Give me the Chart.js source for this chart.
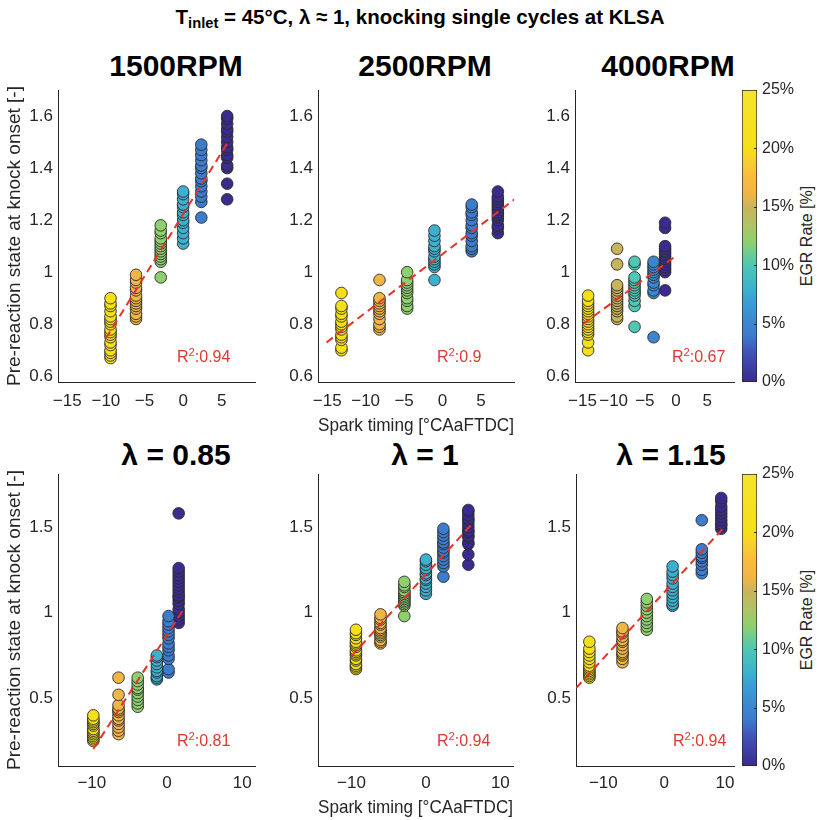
<!DOCTYPE html>
<html>
<head>
<meta charset="utf-8">
<script src="https://cdn.jsdelivr.net/npm/chart.js@4.4.1/dist/chart.umd.min.js"></script>
<style>
  body { margin: 0; background: #fff; width: 817px; height: 820px; position: relative; overflow: hidden;
         font-family: 'Liberation Sans', Arial, sans-serif; }
  canvas { position: absolute; }
  .t { position: absolute; transform: translate(-50%, -50%); white-space: nowrap; color: #000; font-weight: bold; }
  .sup { font-size: 20.5px; }
  .sup sub { font-size: 0.72em; vertical-align: -0.3em; line-height: 0; }
  .ptitle { font-size: 30px; }
  .r2 { position: absolute; transform: translate(0, -50%); white-space: nowrap; color: #e0382e; font-size: 16px; }
  .r2 sup { font-size: 0.7em; line-height: 0; vertical-align: 0.55em; }
  .cblabel { position: absolute; transform: translate(-50%, -50%) rotate(-90deg); white-space: nowrap; color: #262626; font-size: 16px; }
</style>
</head>
<body>
<div class="t sup" style="left:420px;top:17px">T<sub>inlet</sub> = 45°C, λ ≈ 1, knocking single cycles at KLSA</div>
<div class="t ptitle" style="left:176px;top:66px">1500RPM</div>
<div class="t ptitle" style="left:425px;top:66px">2500RPM</div>
<div class="t ptitle" style="left:668px;top:66px">4000RPM</div>
<div class="t ptitle" style="left:176px;top:455px">λ = 0.85</div>
<div class="t ptitle" style="left:425px;top:455px">λ = 1</div>
<div class="t ptitle" style="left:671px;top:455px">λ = 1.15</div>
<div class="cblabel" style="left:807px;top:236px">EGR Rate [%]</div>
<div class="cblabel" style="left:807px;top:620px">EGR Rate [%]</div>

<script>
// ---- data ----
// 1500 RPM (also used for lambda = 1)
const egr1500 = [20, 16, 12, 8, 4, 0];
const spark1500 = [-9.4, -6.1, -2.9, 0, 2.35, 5.7];
const knock1500 = [
  [0.67, 0.68, 0.69, 0.70, 0.72, 0.73, 0.75, 0.76, 0.77, 0.78, 0.80, 0.81, 0.82, 0.83, 0.85, 0.87, 0.88, 0.90],
  [0.82, 0.83, 0.84, 0.86, 0.87, 0.88, 0.89, 0.90, 0.91, 0.93, 0.94, 0.96, 0.97, 0.99],
  [0.98, 1.04, 1.05, 1.06, 1.07, 1.08, 1.09, 1.10, 1.11, 1.12, 1.13, 1.15, 1.16, 1.18],
  [1.11, 1.13, 1.15, 1.17, 1.19, 1.20, 1.22, 1.23, 1.25, 1.26, 1.28, 1.30, 1.31],
  [1.21, 1.27, 1.29, 1.31, 1.33, 1.35, 1.36, 1.38, 1.40, 1.41, 1.43, 1.45, 1.47, 1.49],
  [1.28, 1.34, 1.40, 1.41, 1.44, 1.45, 1.47, 1.48, 1.50, 1.52, 1.54, 1.55, 1.57, 1.59, 1.60]
];
const fitX1500 = [-10, 6];
const fitY1500 = [0.746, 1.509];

// 2500 RPM
const egr2500 = [20, 16, 12, 8, 4, 0];
const spark2500 = [-13.15, -8.2, -4.6, -1.05, 3.8, 7.2];
const knock2500 = [
  [0.70, 0.71, 0.74, 0.75, 0.76, 0.78, 0.79, 0.80, 0.81, 0.83, 0.84, 0.86, 0.87, 0.92],
  [0.78, 0.79, 0.80, 0.82, 0.84, 0.85, 0.86, 0.87, 0.88, 0.89, 0.90, 0.97],
  [0.86, 0.87, 0.89, 0.90, 0.92, 0.93, 0.94, 0.95, 0.96, 0.97, 1.00],
  [0.97, 1.02, 1.03, 1.04, 1.05, 1.06, 1.08, 1.09, 1.10, 1.12, 1.14, 1.16],
  [1.08, 1.09, 1.10, 1.12, 1.14, 1.15, 1.17, 1.18, 1.20, 1.22, 1.23, 1.25, 1.26],
  [1.15, 1.17, 1.18, 1.20, 1.21, 1.22, 1.23, 1.24, 1.25, 1.26, 1.27, 1.28, 1.29, 1.31]
];
const fitX2500 = [-15.1, 9.5];
const fitY2500 = [0.73, 1.283];

// 4000 RPM
const egr4000 = [20, 15, 10, 5, 0];
const spark4000 = [-14.1, -9.45, -6.65, -3.6, -1.75];
const knock4000 = [
  [0.70, 0.73, 0.76, 0.77, 0.78, 0.79, 0.80, 0.81, 0.82, 0.83, 0.84, 0.85, 0.86, 0.87, 0.88, 0.89, 0.91],
  [0.82, 0.83, 0.85, 0.86, 0.87, 0.88, 0.89, 0.90, 0.91, 0.92, 0.93, 0.94, 0.95, 1.03, 1.09],
  [0.79, 0.87, 0.89, 0.91, 0.92, 0.93, 0.94, 0.95, 0.96, 0.97, 0.98, 1.03, 1.04],
  [0.75, 0.92, 0.93, 0.95, 0.96, 0.98, 0.99, 1.00, 1.01, 1.02, 1.03, 1.04],
  [0.93, 1.00, 1.01, 1.02, 1.03, 1.04, 1.05, 1.06, 1.07, 1.08, 1.09, 1.10, 1.17, 1.19]
];
const fitX4000 = [-14.9, -0.15];
const fitY4000 = [0.801, 1.06];

// lambda = 0.85
const egrLam085 = [20, 16, 12, 8, 4, 0];
const sparkLam085 = [-9.8, -6.45, -3.9, -1.35, 0.2, 1.55];
const knockLam085 = [
  [0.25, 0.26, 0.27, 0.28, 0.29, 0.30, 0.31, 0.32, 0.34, 0.35, 0.36, 0.37, 0.38, 0.40],
  [0.29, 0.31, 0.33, 0.35, 0.37, 0.38, 0.40, 0.42, 0.43, 0.44, 0.46, 0.52, 0.62],
  [0.45, 0.47, 0.49, 0.51, 0.53, 0.55, 0.56, 0.58, 0.60, 0.62],
  [0.61, 0.62, 0.63, 0.65, 0.66, 0.68, 0.70, 0.72, 0.74, 0.75],
  [0.65, 0.67, 0.73, 0.75, 0.78, 0.80, 0.82, 0.85, 0.87, 0.89, 0.91, 0.93, 0.95, 0.98],
  [0.94, 0.96, 0.98, 1.00, 1.02, 1.05, 1.07, 1.09, 1.10, 1.12, 1.14, 1.16, 1.18, 1.20, 1.22, 1.24, 1.26, 1.58]
];
const fitXLam085 = [-9.8, 2.1];
const fitYLam085 = [0.203, 1.012];

// lambda = 1.15
const egrLam115 = [20, 16, 12, 8, 4, 0];
const sparkLam115 = [-12.3, -6.85, -2.85, 1.4, 6.2, 9.4];
const knockLam115 = [
  [0.62, 0.63, 0.64, 0.65, 0.66, 0.67, 0.68, 0.69, 0.71, 0.73, 0.75, 0.77, 0.79, 0.83],
  [0.71, 0.73, 0.75, 0.76, 0.77, 0.79, 0.81, 0.83, 0.84, 0.86, 0.88, 0.89, 0.91],
  [0.90, 0.92, 0.94, 0.96, 0.98, 1.00, 1.02, 1.04, 1.06, 1.08],
  [1.04, 1.05, 1.07, 1.09, 1.11, 1.13, 1.15, 1.17, 1.20, 1.22, 1.24, 1.27],
  [1.23, 1.25, 1.28, 1.30, 1.32, 1.33, 1.35, 1.37, 1.54],
  [1.49, 1.51, 1.52, 1.54, 1.56, 1.58, 1.60, 1.62, 1.65, 1.67]
];
const fitXLam115 = [-14.5, 9.9];
const fitYLam115 = [0.559, 1.50];

// axes
const xTicksTop = [-15, -10, -5, 0, 5];
const yTicksTop = [0.6, 0.8, 1, 1.2, 1.4, 1.6];
const xTicksBottom = [-10, 0, 10];
const yTicksBottom = [0.5, 1, 1.5];
const egrTicks = [0, 5, 10, 15, 20, 25];

// ---- styling ----
const FONT = "'Liberation Sans', Arial, sans-serif";
const INK = '#262626';
const FIT_RED = '#e63326';

// parula-like colour map, keyed on EGR %
const cmapStops = [
  [0, '#3b2b8e'], [2.5, '#4252b6'], [4, '#3d7ccd'], [5, '#3b86cf'], [7, '#3b9fd4'],
  [8, '#3db0d0'], [10, '#4ec7b4'], [12, '#8ed06e'], [13.5, '#b1c268'], [15, '#c9b45c'],
  [16, '#efb545'], [17.5, '#f9b93e'], [19, '#f8cf2c'], [20, '#f5df16'], [25, '#f5e42e']
];

function hexToRgb(h) {
  return [parseInt(h.slice(1, 3), 16), parseInt(h.slice(3, 5), 16), parseInt(h.slice(5, 7), 16)];
}
function egrColor(v) {
  for (let i = 1; i < cmapStops.length; i++) {
    const [v1, c1] = cmapStops[i];
    const [v0, c0] = cmapStops[i - 1];
    if (v <= v1) {
      const t = (v - v0) / (v1 - v0);
      const a = hexToRgb(c0), b = hexToRgb(c1);
      const rgb = a.map((x, k) => Math.round(x + (b[k] - x) * t));
      return `rgb(${rgb[0]},${rgb[1]},${rgb[2]})`;
    }
  }
  return cmapStops[cmapStops.length - 1][1];
}

const fmtTick = v => (v < 0 ? '\u2212' : '') + Math.abs(+v.toFixed(2));

const panels = [
  { egr: egr1500, spark: spark1500, knock: knock1500, fitX: fitX1500, fitY: fitY1500, r2: '0.94',
    box: [58, 90, 255, 382], xr: [-16.2, 9.3], yr: [0.578, 1.7], xt: xTicksTop, yt: yTicksTop, yTitle: true, xTitle: false, hx: 60 },
  { egr: egr2500, spark: spark2500, knock: knock2500, fitX: fitX2500, fitY: fitY2500, r2: '0.9',
    box: [318, 90, 514, 382], xr: [-16.2, 9.3], yr: [0.578, 1.7], xt: xTicksTop, yt: yTicksTop, yTitle: false, xTitle: true, hx: 60 },
  { egr: egr4000, spark: spark4000, knock: knock4000, fitX: fitX4000, fitY: fitY4000, r2: '0.67',
    box: [575, 90, 734, 382], xr: [-16.2, 9.3], yr: [0.578, 1.7], xt: xTicksTop, yt: yTicksTop, yTitle: false, xTitle: false, hx: 60 },
  { egr: egrLam085, spark: sparkLam085, knock: knockLam085, fitX: fitXLam085, fitY: fitYLam085, r2: '0.81',
    box: [58, 474, 255, 766], xr: [-14.5, 11.7], yr: [0.104, 1.81], xt: xTicksBottom, yt: yTicksBottom, yTitle: true, xTitle: false, hx: 54 },
  { egr: egr1500, spark: spark1500, knock: knock1500, fitX: fitX1500, fitY: fitY1500, r2: '0.94',
    box: [318, 474, 513, 766], xr: [-14.5, 11.7], yr: [0.104, 1.81], xt: xTicksBottom, yt: yTicksBottom, yTitle: false, xTitle: true, hx: 54 },
  { egr: egrLam115, spark: sparkLam115, knock: knockLam115, fitX: fitXLam115, fitY: fitYLam115, r2: '0.94',
    box: [576, 474, 734, 766], xr: [-14.5, 11.5], yr: [0.104, 1.81], xt: xTicksBottom, yt: yTicksBottom, yTitle: false, xTitle: false, hx: 54 }
];

const PAD_TOP = 20, PAD_RIGHT = 12;

function makeCanvas(left, top, w, h) {
  const c = document.createElement('canvas');
  c.width = w; c.height = h;
  c.style.left = left + 'px'; c.style.top = top + 'px';
  c.style.width = w + 'px'; c.style.height = h + 'px';
  document.body.appendChild(c);
  return c;
}

panels.forEach(p => {
  const [l, t, r, b] = p.box;
  const wy = p.yTitle ? 58 : 50;
  const topRow = p.hx === 60;
  const canvas = makeCanvas(l - wy, t - PAD_TOP, wy + (r - l) + PAD_RIGHT, PAD_TOP + (b - t) + p.hx);

  const datasets = [{
    type: 'line',
    data: p.fitX.map((x, i) => ({ x, y: p.fitY[i] })),
    borderColor: FIT_RED,
    borderWidth: 2,
    borderDash: [8, 5],
    pointRadius: 0,
    fill: false,
    order: 0
  }];
  p.knock.forEach((vals, g) => {
    datasets.push({
      type: 'scatter',
      data: vals.map(y => ({ x: p.spark[g], y })),
      backgroundColor: egrColor(p.egr[g]),
      borderColor: '#2a2a2a',
      borderWidth: 0.9,
      pointRadius: 5.8,
      order: 1
    });
  });

  new Chart(canvas.getContext('2d'), {
    type: 'scatter',
    data: { datasets },
    options: {
      responsive: false,
      animation: false,
      devicePixelRatio: 1,
      layout: { padding: { top: PAD_TOP, right: PAD_RIGHT, left: 0, bottom: 0 } },
      plugins: { legend: { display: false }, tooltip: { enabled: false } },
      scales: {
        x: {
          type: 'linear', min: p.xr[0], max: p.xr[1],
          grid: { display: false, drawTicks: false },
          border: { display: true, color: INK, width: 1 },
          ticks: { padding: topRow ? 9 : 7, color: INK, font: { size: 17, family: FONT }, maxRotation: 0, autoSkip: false, callback: fmtTick },
          afterBuildTicks: s => { s.ticks = p.xt.map(v => ({ value: v })); },
          afterFit: s => { s.height = p.hx; },
          title: { display: p.xTitle, text: 'Spark timing [°CAaFTDC]', color: INK,
                   font: { size: 19, family: FONT }, padding: { top: 0, bottom: topRow ? 5 : 1 } }
        },
        y: {
          type: 'linear', min: p.yr[0], max: p.yr[1],
          grid: { display: false, drawTicks: false },
          border: { display: true, color: INK, width: 1 },
          ticks: { padding: 5, color: INK, font: { size: 17, family: FONT }, autoSkip: false, callback: fmtTick },
          afterBuildTicks: s => { s.ticks = p.yt.map(v => ({ value: v })); },
          afterFit: s => { s.width = wy; },
          title: { display: p.yTitle, text: 'Pre-reaction state at knock onset [-]', color: INK,
                   font: { size: 19, family: FONT }, padding: { top: 3, bottom: 0 } }
        }
      }
    }
  });

  const r2 = document.createElement('div');
  r2.className = 'r2';
  r2.innerHTML = 'R<sup>2</sup>:' + p.r2;
  const isRight = l > 500;
  r2.style.left = (isRight ? l + 97 : l + 119) + 'px';
  r2.style.top = (b - 25) + 'px';
  document.body.appendChild(r2);
});

// colour bars
const cbTickPlugin = {
  id: 'cbTicks',
  afterDraw(chart) {
    const { ctx, chartArea: a, scales: { y } } = chart;
    ctx.save();
    ctx.strokeStyle = INK;
    ctx.lineWidth = 1;
    y.ticks.forEach(tk => {
      if (tk.value <= 0 || tk.value >= 25) return;
      const py = Math.round(y.getPixelForValue(tk.value)) + 0.5;
      ctx.beginPath();
      ctx.moveTo(a.right - 3, py);
      ctx.lineTo(a.right, py);
      ctx.stroke();
    });
    ctx.restore();
  }
};

[[742, 90, 757, 382], [742, 474, 757, 766]].forEach(([l, t, r, b]) => {
  const canvas = makeCanvas(l, t - PAD_TOP, (r - l) + 60, PAD_TOP + (b - t) + 20);
  new Chart(canvas.getContext('2d'), {
    type: 'bar',
    data: {
      labels: ['EGR'],
      datasets: [{
        data: [egrTicks[egrTicks.length - 1]],
        barPercentage: 1,
        categoryPercentage: 1,
        borderWidth: 1,
        borderColor: INK,
        borderSkipped: false,
        backgroundColor: c => {
          const chart = c.chart;
          if (!chart.chartArea) return '#ccc';
          const y = chart.scales.y;
          const g = chart.ctx.createLinearGradient(0, y.getPixelForValue(0), 0, y.getPixelForValue(25));
          cmapStops.forEach(([v, col]) => g.addColorStop(v / 25, col));
          return g;
        }
      }]
    },
    options: {
      responsive: false,
      animation: false,
      devicePixelRatio: 1,
      layout: { padding: { top: PAD_TOP, bottom: 20, left: 0, right: 0 } },
      plugins: { legend: { display: false }, tooltip: { enabled: false } },
      scales: {
        x: { display: false },
        y: {
          position: 'right', min: 0, max: 25,
          grid: { display: false, drawTicks: false },
          border: { display: false },
          ticks: { padding: 5, color: INK, font: { size: 16, family: FONT }, callback: v => v + '%' },
          afterBuildTicks: s => { s.ticks = egrTicks.map(v => ({ value: v })); },
          afterFit: s => { s.width = 60; }
        }
      }
    },
    plugins: [cbTickPlugin]
  });
});
</script>
</body>
</html>
